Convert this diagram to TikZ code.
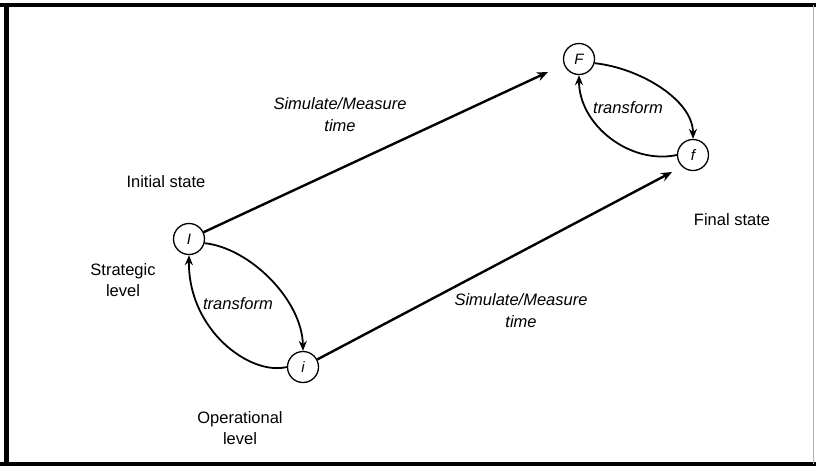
\documentclass[tikz,border=0pt]{standalone}
\usepackage{fontspec}
\setmainfont{Liberation Sans}
\usetikzlibrary{arrows.meta}
\begin{document}
\begin{tikzpicture}[x=1pt,y=-1pt,
  state/.style={circle,draw,line width=1.3pt,minimum size=31pt,inner sep=0pt,font=\fontsize{15}{17}\selectfont\itshape},
  lbl/.style={font=\fontsize{16.5}{21}\selectfont,align=center},
  ilbl/.style={font=\fontsize{16.5}{22}\selectfont\itshape,align=center},
  longarrow/.style={line width=2.4pt,-{Stealth[length=11pt,width=9pt]}},
  loop/.style={line width=1.8pt,-{Stealth[length=10pt,width=8pt]}}]
\useasboundingbox (0,0) rectangle (816,467);
% frame
\fill[white] (0,0) rectangle (816,467);
\draw[black,line width=4pt] (0,5) -- (816,5);
\draw[black,line width=4.5pt] (6.5,3) -- (6.5,466);
\draw[black,line width=4pt] (0,464) -- (816,464);
\draw[gray!60,line width=0.8pt] (813,5) -- (813,464);
% states
\node[state] (I) at (189,239) {I};
\node[state] (i) at (303,367) {i};
\node[state] (F) at (579,59) {F};
\node[state] (f) at (693,155) {f};
% simulate/measure arrows
\draw[longarrow] (I) -- (548,72) coordinate (Fin);
\draw[longarrow] (i) -- (672,172) coordinate (fin);
% transform loops
\draw[loop] (I.-15) .. controls (250,248) and (302,300) .. (i.north);
\draw[loop] (i.west) .. controls (250,376) and (188,330) .. (I.south);
\draw[loop] (F.-15) .. controls (640,68) and (693,100) .. (f.north);
\draw[loop] (f.west) .. controls (630,165) and (579,125) .. (F.south);
% labels
\node[ilbl] (sm1) at (340,115) {Simulate/Measure\\time};
\node[ilbl] (sm2) at (521,311) {Simulate/Measure\\time};
\node[ilbl] (t1) at (238,304) {transform};
\node[ilbl] (t2) at (628,108) {transform};
\node[lbl] (init) at (166,182) {Initial state};
\node[lbl] (strat) at (123,280) {Strategic\\level};
\node[lbl] (oper) at (240,428) {Operational\\level};
\node[lbl] (fin) at (732,220) {Final state};
\end{tikzpicture}
\end{document}
